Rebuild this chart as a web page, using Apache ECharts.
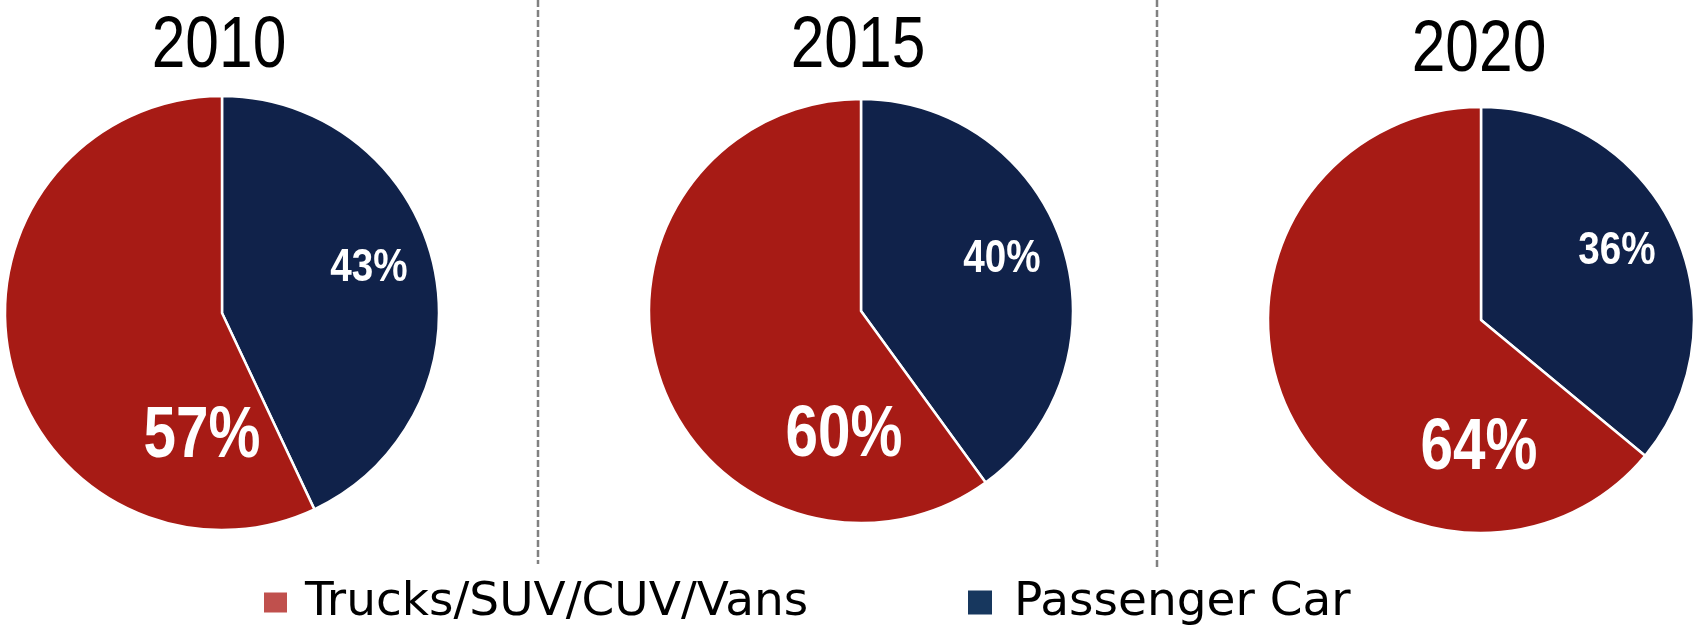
<!DOCTYPE html>
<html>
<head>
<meta charset="utf-8">
<script src="https://cdn.jsdelivr.net/npm/echarts@6/dist/echarts.min.js"></script>
<style>
  html, body { margin: 0; padding: 0; background: #ffffff; }
  #chart { width: 1700px; height: 633px; }
</style>
</head>
<body>
<div id="chart"></div>
<script>
// ---- Data ----
const years = ['2010', '2015', '2020'];
const categories = ['Passenger Car', 'Trucks/SUV/CUV/Vans'];
const passengerCar = [43, 40, 36];
const trucks = [57, 60, 64];

// ---- Layout / style ----
const sliceColors = { 'Passenger Car': '#10224A', 'Trucks/SUV/CUV/Vans': '#A71B15' };
const legendColors = { 'Passenger Car': '#17375E', 'Trucks/SUV/CUV/Vans': '#C0504D' };
const pieCenters = [[222, 313], [861, 311], [1481, 320]];
const pieRadii = [217, 212, 213];
const titleCenters = [[219, 47], [858, 47], [1479, 51]];
// label centre offsets relative to pie centre: [passenger, trucks]
const labelOffsets = [
  [[147, -45], [-20, 124]],
  [[141, -52], [-17, 125]],
  [[136, -69], [-2, 129]]
];
const baseFont = '"Liberation Sans", Arial, sans-serif';

const chart = echarts.init(document.getElementById('chart'), null, { renderer: 'canvas' });

const series = years.map((yr, i) => ({
  type: 'pie',
  name: yr,
  center: pieCenters[i],
  radius: [0, pieRadii[i]],
  startAngle: 90,
  clockwise: true,
  silent: true,
  animation: false,
  z: 2,
  itemStyle: { borderColor: '#ffffff', borderWidth: 2.5 },
  label: { show: false },
  labelLine: { show: false },
  data: [
    { name: categories[0], value: passengerCar[i], itemStyle: { color: sliceColors[categories[0]] } },
    { name: categories[1], value: trucks[i], itemStyle: { color: sliceColors[categories[1]] } }
  ]
}));

// Narrow (condensed) text: titles and percentage labels, horizontally compressed
const graphics = [];
years.forEach((yr, i) => {
  graphics.push({
    type: 'text', silent: true, z: 100,
    x: titleCenters[i][0], y: titleCenters[i][1],
    scaleX: 0.84,
    style: {
      text: yr, fill: '#000000',
      font: 'normal 72px ' + baseFont,
      align: 'center', verticalAlign: 'middle'
    }
  });
  const vals = [passengerCar[i], trucks[i]];
  vals.forEach((v, k) => {
    const big = k === 1;
    graphics.push({
      type: 'text', silent: true, z: 100,
      x: pieCenters[i][0] + labelOffsets[i][k][0],
      y: pieCenters[i][1] + labelOffsets[i][k][1],
      scaleX: big ? 0.8 : 0.84,
      style: {
        text: v + '%', fill: '#ffffff',
        font: 'bold ' + (big ? 73 : 46) + 'px ' + baseFont,
        align: 'center', verticalAlign: 'middle'
      }
    });
  });
});
graphics.push(
  {
    type: 'line', silent: true,
    shape: { x1: 538, y1: 0, x2: 538, y2: 564 },
    style: { stroke: '#808080', lineWidth: 2.5, lineDash: [7, 3] }
  },
  {
    type: 'line', silent: true,
    shape: { x1: 1157, y1: 0, x2: 1157, y2: 569 },
    style: { stroke: '#808080', lineWidth: 2.5, lineDash: [7, 3] }
  }
);

const legendText = {
  fontFamily: '"DejaVu Sans", sans-serif',
  fontSize: 47,
  lineHeight: 46,
  color: '#000000'
};

const option = {
  backgroundColor: '#ffffff',
  animation: false,
  legend: [
    {
      data: [{ name: categories[1], itemStyle: { color: legendColors[categories[1]] } }],
      left: 262,
      top: 579,
      padding: 0,
      icon: 'rect',
      itemWidth: 25,
      itemHeight: 22,
      selectedMode: false,
      textStyle: Object.assign({}, legendText, { padding: [0, 0, 0, 12] })
    },
    {
      data: [{ name: categories[0], itemStyle: { color: legendColors[categories[0]] } }],
      left: 966,
      top: 579,
      padding: 0,
      icon: 'rect',
      itemWidth: 26,
      itemHeight: 26,
      selectedMode: false,
      textStyle: Object.assign({}, legendText, { padding: [0, 0, 0, 16] })
    }
  ],
  graphic: { elements: graphics },
  series: series
};

chart.setOption(option);
</script>
</body>
</html>
